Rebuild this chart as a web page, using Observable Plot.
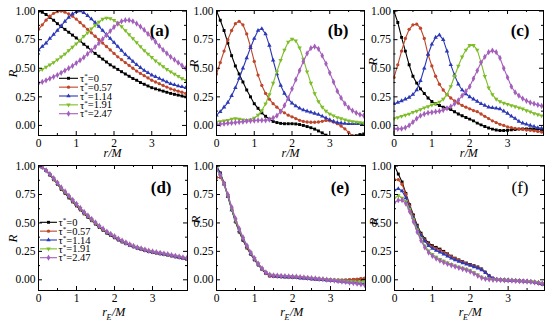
<!DOCTYPE html>
<html><head><meta charset="utf-8">
<script src="https://cdn.jsdelivr.net/npm/d3@7"></script>
<script src="https://cdn.jsdelivr.net/npm/@observablehq/plot@0.6"></script>
<style>
body{margin:0;background:#fff;}
#wrap{position:relative;width:550px;height:322px;overflow:hidden;background:#fff;font-family:"Liberation Serif",serif;}
#wrap > svg{position:absolute;}
#wrap text{font-family:"Liberation Serif",serif;}
</style></head><body><div id="wrap"></div>
<script>
// ---------- data ----------
const xs = [0,0.1,0.2,0.3,0.4,0.5,0.6,0.7,0.8,0.9,1.0,1.1,1.2,1.3,1.4,1.5,1.6,1.7,1.8,1.9,2.0,2.1,2.2,2.3,2.4,2.5,2.6,2.7,2.8,2.9,3.0,3.1,3.2,3.3,3.4,3.5,3.6,3.7,3.8,3.9];
const seriesLabels = ["0","0.57","1.14","1.91","2.47"];
const xMajor = [0,1,2,3];
const xMinor = [0.5,1.5,2.5,3.5];
const yMajor = [0,0.25,0.5,0.75,1];
const yMinor = [0.125,0.375,0.625,0.875];

// (a)
const a0 = [1.0,0.99,0.97,0.945,0.92,0.89,0.865,0.84,0.815,0.79,0.765,0.74,0.71,0.685,0.655,0.63,0.605,0.58,0.555,0.53,0.51,0.49,0.47,0.45,0.43,0.41,0.395,0.375,0.36,0.345,0.33,0.32,0.31,0.3,0.29,0.28,0.272,0.265,0.258,0.25];
const a1 = [0.84,0.88,0.92,0.955,0.98,0.995,1.0,0.99,0.975,0.955,0.93,0.9,0.87,0.84,0.81,0.78,0.75,0.72,0.69,0.66,0.63,0.6,0.575,0.55,0.525,0.5,0.475,0.455,0.435,0.415,0.395,0.38,0.365,0.35,0.335,0.32,0.31,0.3,0.29,0.28];
const a2 = [0.66,0.69,0.72,0.76,0.795,0.83,0.87,0.91,0.945,0.975,0.995,1.0,0.985,0.96,0.93,0.9,0.865,0.83,0.795,0.76,0.725,0.69,0.655,0.62,0.59,0.56,0.53,0.505,0.48,0.46,0.44,0.425,0.41,0.395,0.38,0.365,0.355,0.345,0.338,0.33];
const a3 = [0.475,0.49,0.51,0.53,0.55,0.575,0.6,0.625,0.655,0.685,0.715,0.745,0.78,0.81,0.845,0.875,0.905,0.93,0.94,0.935,0.92,0.895,0.865,0.83,0.795,0.76,0.725,0.69,0.655,0.625,0.595,0.565,0.54,0.515,0.49,0.47,0.45,0.43,0.41,0.395];
const a4 = [0.37,0.38,0.395,0.41,0.425,0.44,0.46,0.48,0.5,0.52,0.545,0.57,0.595,0.625,0.655,0.685,0.72,0.755,0.79,0.825,0.86,0.89,0.91,0.92,0.92,0.91,0.89,0.865,0.835,0.8,0.765,0.73,0.695,0.66,0.63,0.6,0.575,0.55,0.525,0.5];
// (b)
const b0 = [1.0,0.92,0.83,0.72,0.61,0.52,0.45,0.38,0.31,0.25,0.19,0.15,0.11,0.08,0.055,0.035,0.025,0.018,0.015,0.015,0.015,0.013,0.008,0.0,-0.01,-0.02,-0.032,-0.048,-0.065,-0.085,-0.105,-0.12,-0.13,-0.13,-0.125,-0.115,-0.1,-0.09,-0.08,-0.075];
const b1 = [0.45,0.55,0.65,0.75,0.83,0.89,0.91,0.88,0.8,0.69,0.56,0.44,0.35,0.28,0.23,0.19,0.16,0.13,0.11,0.09,0.075,0.06,0.045,0.035,0.03,0.028,0.028,0.03,0.036,0.044,0.04,0.03,0.015,-0.005,-0.03,-0.06,-0.09,-0.115,-0.13,-0.14];
const b2 = [0.09,0.12,0.16,0.2,0.26,0.33,0.41,0.5,0.59,0.68,0.76,0.83,0.845,0.8,0.7,0.57,0.45,0.35,0.28,0.23,0.195,0.17,0.15,0.135,0.125,0.115,0.105,0.095,0.08,0.065,0.05,0.035,0.025,0.02,0.017,0.015,0.015,0.015,0.015,0.015];
const b3 = [0.03,0.035,0.04,0.045,0.055,0.06,0.055,0.05,0.045,0.05,0.065,0.09,0.13,0.19,0.27,0.37,0.47,0.57,0.66,0.73,0.755,0.74,0.68,0.58,0.47,0.37,0.28,0.21,0.16,0.125,0.1,0.085,0.07,0.06,0.05,0.04,0.035,0.03,0.025,0.02];
const b4 = [0.01,0.012,0.015,0.02,0.022,0.025,0.03,0.033,0.037,0.04,0.043,0.045,0.045,0.045,0.05,0.065,0.085,0.12,0.175,0.24,0.32,0.4,0.48,0.56,0.63,0.675,0.69,0.67,0.61,0.54,0.46,0.38,0.3,0.24,0.19,0.155,0.13,0.11,0.095,0.085];
// (c)
const c0 = [1.0,0.9,0.77,0.65,0.53,0.43,0.37,0.32,0.28,0.24,0.21,0.19,0.175,0.16,0.15,0.14,0.12,0.1,0.085,0.07,0.055,0.04,0.02,0.005,-0.01,-0.022,-0.032,-0.04,-0.045,-0.045,-0.042,-0.038,-0.035,-0.032,-0.03,-0.03,-0.03,-0.032,-0.034,-0.036];
const c1 = [0.42,0.53,0.65,0.76,0.84,0.88,0.885,0.85,0.76,0.62,0.52,0.43,0.36,0.31,0.27,0.24,0.215,0.195,0.175,0.16,0.145,0.13,0.12,0.1,0.08,0.06,0.04,0.025,0.01,0.0,-0.012,-0.02,-0.025,-0.03,-0.035,-0.04,-0.043,-0.047,-0.052,-0.058];
const c2 = [0.19,0.2,0.215,0.23,0.245,0.27,0.31,0.39,0.5,0.62,0.71,0.77,0.79,0.75,0.65,0.53,0.44,0.36,0.31,0.275,0.25,0.23,0.21,0.19,0.175,0.16,0.155,0.15,0.145,0.125,0.105,0.08,0.06,0.035,0.02,0.01,0.0,-0.01,-0.02,-0.025];
const c3 = [0.06,0.07,0.08,0.09,0.1,0.115,0.125,0.14,0.155,0.165,0.18,0.19,0.205,0.23,0.27,0.34,0.43,0.52,0.6,0.66,0.7,0.7,0.66,0.55,0.43,0.33,0.27,0.23,0.21,0.195,0.185,0.175,0.165,0.155,0.145,0.13,0.12,0.105,0.095,0.085];
const c4 = [-0.03,-0.03,-0.028,-0.02,0.0,0.03,0.06,0.085,0.1,0.11,0.115,0.12,0.125,0.135,0.15,0.165,0.19,0.22,0.26,0.3,0.34,0.41,0.48,0.55,0.6,0.64,0.655,0.64,0.59,0.5,0.42,0.34,0.29,0.26,0.235,0.215,0.2,0.19,0.18,0.17];
// (d)
const d0 = [1.0,0.99,0.96,0.92,0.88,0.84,0.795,0.76,0.72,0.685,0.65,0.615,0.58,0.55,0.52,0.49,0.46,0.435,0.41,0.39,0.37,0.35,0.333,0.318,0.303,0.29,0.278,0.267,0.257,0.248,0.241,0.235,0.229,0.223,0.217,0.21,0.202,0.195,0.188,0.18];
const d1 = [1.0,0.99,0.96,0.925,0.885,0.845,0.8,0.765,0.73,0.69,0.655,0.62,0.585,0.555,0.525,0.495,0.465,0.44,0.415,0.395,0.375,0.355,0.337,0.32,0.305,0.292,0.28,0.27,0.26,0.25,0.243,0.237,0.231,0.225,0.219,0.212,0.204,0.197,0.19,0.183];
const d2 = [1.0,0.99,0.962,0.927,0.888,0.848,0.805,0.77,0.733,0.695,0.66,0.625,0.59,0.558,0.528,0.498,0.468,0.443,0.418,0.397,0.377,0.357,0.339,0.322,0.307,0.293,0.281,0.271,0.261,0.251,0.244,0.238,0.232,0.226,0.22,0.213,0.206,0.199,0.192,0.186];
const d3v = [1.0,0.99,0.962,0.928,0.89,0.85,0.807,0.772,0.735,0.698,0.663,0.628,0.593,0.561,0.53,0.5,0.47,0.445,0.42,0.4,0.38,0.36,0.342,0.325,0.31,0.296,0.284,0.274,0.264,0.254,0.247,0.241,0.235,0.229,0.223,0.216,0.209,0.202,0.195,0.19];
const d4 = [1.0,0.99,0.963,0.93,0.893,0.855,0.812,0.777,0.74,0.703,0.668,0.633,0.598,0.566,0.535,0.505,0.475,0.449,0.424,0.403,0.383,0.363,0.345,0.328,0.312,0.298,0.286,0.276,0.266,0.256,0.249,0.243,0.237,0.231,0.225,0.218,0.211,0.204,0.197,0.191];
// (e)
const e0 = [1.0,0.94,0.85,0.74,0.62,0.51,0.42,0.345,0.28,0.225,0.175,0.13,0.09,0.055,0.035,0.03,0.028,0.027,0.025,0.024,0.022,0.02,0.018,0.015,0.012,0.009,0.006,0.004,0.002,0.0,-0.002,-0.003,-0.004,-0.004,-0.003,-0.002,0.0,0.003,0.006,0.01];
const e1 = [0.9,0.9,0.84,0.735,0.615,0.51,0.425,0.35,0.285,0.23,0.18,0.135,0.095,0.06,0.032,0.028,0.028,0.027,0.026,0.025,0.023,0.021,0.018,0.015,0.012,0.01,0.008,0.006,0.004,0.002,0.0,-0.002,-0.003,-0.003,-0.002,0.0,0.003,0.006,0.01,0.015];
const e2 = [1.0,0.93,0.84,0.73,0.615,0.515,0.43,0.355,0.29,0.232,0.182,0.136,0.096,0.062,0.04,0.033,0.03,0.028,0.026,0.024,0.022,0.02,0.017,0.014,0.011,0.008,0.005,0.002,0.0,-0.003,-0.006,-0.009,-0.012,-0.015,-0.018,-0.021,-0.024,-0.027,-0.03,-0.033];
const e3 = [0.98,0.92,0.84,0.74,0.625,0.525,0.44,0.365,0.297,0.238,0.188,0.14,0.1,0.066,0.045,0.04,0.036,0.034,0.032,0.03,0.028,0.026,0.023,0.02,0.017,0.014,0.011,0.008,0.005,0.002,-0.001,-0.004,-0.007,-0.009,-0.011,-0.013,-0.015,-0.017,-0.019,-0.02];
const e4 = [0.97,0.92,0.845,0.75,0.64,0.54,0.45,0.372,0.302,0.242,0.19,0.142,0.1,0.065,0.045,0.04,0.037,0.035,0.033,0.031,0.029,0.027,0.024,0.021,0.018,0.015,0.012,0.008,0.005,0.001,-0.003,-0.007,-0.011,-0.015,-0.019,-0.024,-0.029,-0.034,-0.04,-0.046];
// (f)
const f0 = [1.0,0.93,0.86,0.76,0.66,0.57,0.48,0.41,0.36,0.325,0.3,0.285,0.27,0.25,0.228,0.208,0.19,0.175,0.16,0.147,0.135,0.124,0.113,0.095,0.067,0.035,0.012,0.003,0.0,-0.002,-0.004,-0.006,-0.008,-0.01,-0.012,-0.014,-0.017,-0.022,-0.03,-0.04];
const f1 = [0.88,0.88,0.84,0.75,0.65,0.56,0.47,0.4,0.35,0.315,0.29,0.275,0.26,0.242,0.222,0.203,0.186,0.171,0.157,0.144,0.132,0.121,0.11,0.093,0.066,0.036,0.014,0.005,0.001,-0.001,-0.003,-0.005,-0.007,-0.008,-0.01,-0.012,-0.015,-0.02,-0.027,-0.035];
const f2 = [0.79,0.8,0.78,0.72,0.63,0.545,0.46,0.39,0.34,0.3,0.275,0.258,0.243,0.226,0.208,0.19,0.175,0.161,0.148,0.136,0.125,0.114,0.103,0.087,0.062,0.034,0.014,0.005,0.001,-0.001,-0.003,-0.005,-0.006,-0.008,-0.01,-0.012,-0.015,-0.019,-0.025,-0.032];
const f3 = [0.72,0.74,0.72,0.69,0.62,0.53,0.44,0.36,0.3,0.255,0.225,0.2,0.18,0.165,0.15,0.137,0.124,0.113,0.103,0.094,0.082,0.065,0.045,0.025,0.012,0.006,0.003,0.001,0.0,-0.002,-0.004,-0.006,-0.008,-0.01,-0.012,-0.014,-0.016,-0.02,-0.025,-0.03];
const f4 = [0.68,0.7,0.7,0.67,0.6,0.51,0.42,0.345,0.285,0.24,0.21,0.187,0.168,0.153,0.14,0.128,0.116,0.105,0.095,0.085,0.072,0.055,0.035,0.018,0.008,0.003,0.0,-0.001,-0.002,-0.004,-0.006,-0.008,-0.01,-0.012,-0.014,-0.016,-0.019,-0.023,-0.028,-0.034];

// ---------- style ----------
const colors = ["#000000","#bf462b","#2c38b6","#7dbd28","#a35fbb"];
const triDown = {draw(ctx, size){const y=-Math.sqrt(size/(Math.sqrt(3)*3));ctx.moveTo(0,-y*2);ctx.lineTo(-Math.sqrt(3)*y,y);ctx.lineTo(Math.sqrt(3)*y,y);ctx.closePath();}};
const symbols = [d3.symbolSquare, d3.symbolCircle, d3.symbolTriangle, triDown, d3.symbolDiamond];
const dotR = 1.65;
const FONT = "Liberation Serif, serif";

const panels = [
  {label:"(a)", bold:true, series:[a0,a1,a2,a3,a4], left:0,   top:0,   width:188, height:160, ml:38,   mr:2, mt:10, mb:25, xmax:3.92, ydom:[-0.088,1.005], lab:[-17,13], R:[-26,4.5],  xt:"r",  xtDy:21},
  {label:"(b)", bold:true, series:[b0,b1,b2,b3,b4], left:188, top:0,   width:178, height:160, ml:28,   mr:2, mt:10, mb:25, xmax:3.92, ydom:[-0.088,1.005], lab:[-16,13], R:[-23,-5.5], xt:"r",  xtDy:21},
  {label:"(c)", bold:true, series:[c0,c1,c2,c3,c4], left:366, top:0,   width:184, height:160, ml:27.5, mr:7, mt:10, mb:25, xmax:3.95, ydom:[-0.088,1.005], lab:[-14,13], R:[-21.5,-7.5],xt:"r",  xtDy:21},
  {label:"(d)", bold:true, series:[d0,d1,d2,d3v,d4],left:0,   top:160, width:188, height:162, ml:38,   mr:1, mt:5,  mb:32, xmax:3.92, ydom:[-0.094,1.005], lab:[-16,15], R:[-26,14.5], xt:"rE", xtDy:25},
  {label:"(e)", bold:true, series:[e0,e1,e2,e3,e4], left:188, top:160, width:178, height:162, ml:28,   mr:1, mt:5,  mb:32, xmax:3.92, ydom:[-0.094,1.005], lab:[-16,15], R:[-21,-4.5], xt:"rE", xtDy:25},
  {label:"(f)", bold:false,series:[f0,f1,f2,f3,f4], left:366, top:160, width:184, height:162, ml:28,   mr:6, mt:5,  mb:32, xmax:3.96, ydom:[-0.094,1.005], lab:[-16,15], R:[-21,-2.5], xt:"rE", xtDy:25}
];

const wrap = document.getElementById("wrap");

panels.forEach(p => {
  const W = p.width - p.ml - p.mr, H = p.height - p.mt - p.mb;
  const marks = [];
  p.series.forEach((vals, i) => {
    const data = xs.map((x, j) => ({x, y: vals[j]}));
    marks.push(Plot.line(data, {x:"x", y:"y", stroke:colors[i], strokeWidth:1.1, clip:true}));
    marks.push(Plot.dot(data, {x:"x", y:"y", fill:colors[i], stroke:"none", r: i===4 ? dotR*1.15 : dotR, symbol:symbols[i], clip:true}));
  });
  marks.push(
    Plot.tickX(xMajor, {x:d=>d, insetTop:H-4, stroke:"#000"}),
    Plot.tickX(xMajor, {x:d=>d, insetBottom:H-4, stroke:"#000"}),
    Plot.tickX(xMinor, {x:d=>d, insetTop:H-2, stroke:"#000"}),
    Plot.tickX(xMinor, {x:d=>d, insetBottom:H-2, stroke:"#000"}),
    Plot.tickY(yMajor, {y:d=>d, insetRight:W-4, stroke:"#000"}),
    Plot.tickY(yMajor, {y:d=>d, insetLeft:W-4, stroke:"#000"}),
    Plot.tickY(yMinor, {y:d=>d, insetRight:W-2, stroke:"#000"}),
    Plot.tickY(yMinor, {y:d=>d, insetLeft:W-2, stroke:"#000"}),
    Plot.axisX(xMajor, {tickSize:0, tickPadding:3, tickFormat:d=>String(d), label:null, fontFamily:FONT, fontSize:11.5}),
    Plot.axisY(yMajor, {tickSize:0, tickPadding:3, tickFormat:d3.format(".2f"), label:null, fontFamily:FONT, fontSize:11.5}),
    Plot.frame({stroke:"#000", strokeWidth:1}),
    Plot.text([p.label], {text:d=>d, frameAnchor:"top-right", dx:p.lab[0], dy:p.lab[1], fontSize:17, fontFamily:FONT, fontWeight:p.bold?"bold":"normal"}),
    Plot.text(["R"], {text:d=>d, frameAnchor:"left", rotate:-90, dx:p.R[0], dy:p.R[1], fontSize:13, fontFamily:FONT, fontStyle:"italic"})
  );
  if (p.xt === "r") {
    marks.push(Plot.text(["r/M"], {text:d=>d, frameAnchor:"bottom", dy:p.xtDy, fontSize:12, fontFamily:FONT, fontStyle:"italic"}));
  } else {
    marks.push(
      Plot.text(["r"], {text:d=>d, frameAnchor:"bottom", dy:p.xtDy, dx:-6, textAnchor:"end", fontSize:12, fontFamily:FONT, fontStyle:"italic"}),
      Plot.text(["E"], {text:d=>d, frameAnchor:"bottom", dy:p.xtDy+4, dx:-6.5, textAnchor:"start", fontSize:8, fontFamily:FONT, fontStyle:"italic"}),
      Plot.text(["/M"], {text:d=>d, frameAnchor:"bottom", dy:p.xtDy, dx:-1, textAnchor:"start", fontSize:12, fontFamily:FONT, fontStyle:"italic"})
    );
  }
  const svg = Plot.plot({
    width:p.width, height:p.height,
    marginLeft:p.ml, marginRight:p.mr, marginTop:p.mt, marginBottom:p.mb,
    x:{domain:[0,p.xmax]}, y:{domain:p.ydom},
    style:{fontFamily:FONT, fontSize:"11.5px", color:"#000", background:"transparent", overflow:"visible"},
    marks
  });
  svg.style.left = p.left + "px";
  svg.style.top = p.top + "px";
  wrap.appendChild(svg);
});

// ---------- legends ----------
const legendSpecs = [
  {x0:59, x1:78, tx:80, y0:78.3, dy:8.85},
  {x0:40, x1:57, tx:58.5, y0:222.3, dy:8.85}
];
const ov = d3.select(wrap).append("svg").attr("width",550).attr("height",322).style("left","0px").style("top","0px");
legendSpecs.forEach(L => {
  seriesLabels.forEach((lab, i) => {
    const y = L.y0 + i*L.dy;
    const g = ov.append("g");
    g.append("line").attr("x1",L.x0).attr("x2",L.x1).attr("y1",y).attr("y2",y).attr("stroke",colors[i]).attr("stroke-width",1.1);
    g.append("path").attr("d", d3.symbol().type(symbols[i]).size(Math.PI*dotR*dotR*(i===4?1.3:1))())
      .attr("transform",`translate(${(L.x0+L.x1)/2},${y})`).attr("fill",colors[i]);
    const t = g.append("text").attr("x",L.tx).attr("y",y).attr("dy","0.35em")
      .attr("font-family",FONT).attr("font-size",10.5).attr("fill","#000");
    t.append("tspan").text("τ");
    t.append("tspan").attr("font-size",7).attr("dy","-0.55em").text("*");
    t.append("tspan").attr("dy","0.35em").text("=" + lab);
  });
});
</script>
</body></html>
